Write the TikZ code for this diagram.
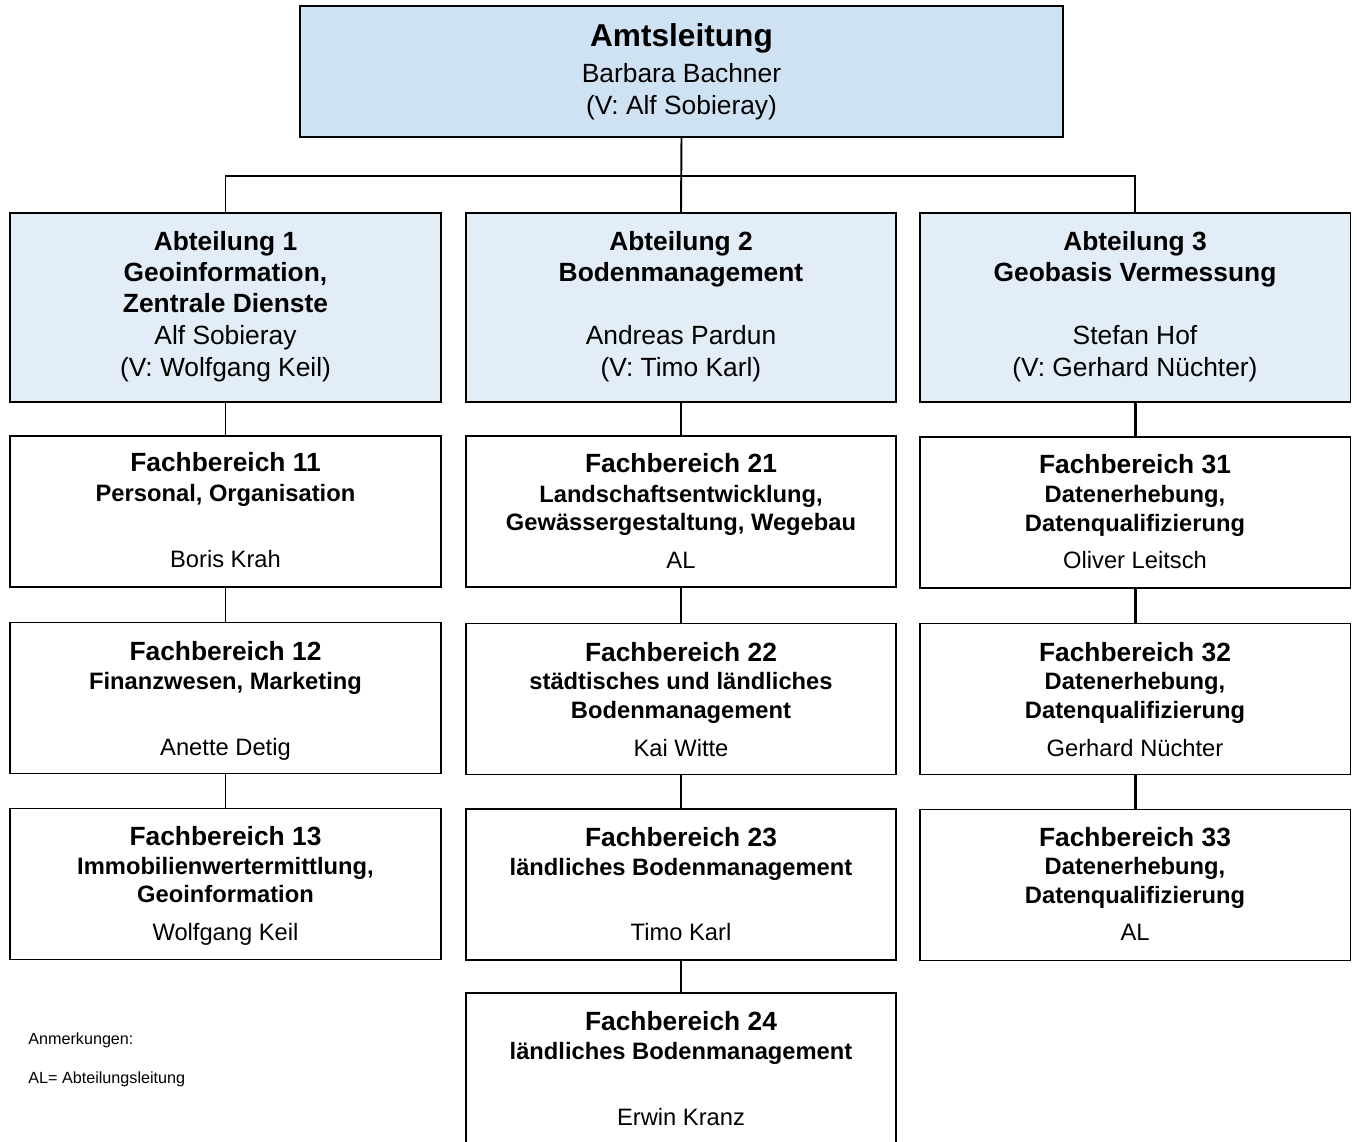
\documentclass[tikz,border=0pt]{standalone}
\usepackage{fontspec}
\setmainfont{Liberation Sans}
\definecolor{amtblue}{RGB}{207,226,243}
\definecolor{abtblue}{RGB}{226,237,248}

\begin{document}
\begin{tikzpicture}[x=0.02cm, y=-0.02cm,
    box/.style={draw, line width=1.1pt, inner sep=0pt},
    amtbox/.style={box, fill=amtblue, minimum width=15.26cm, minimum height=2.62cm},
    abtbox/.style={box, fill=abtblue, minimum width=8.62cm, minimum height=3.78cm},
    fbbox/.style={box, minimum width=8.62cm, minimum height=3.02cm},
    head/.style={anchor=base, inner sep=0pt, font=\fontsize{18}{21}\selectfont\bfseries},
    big/.style={anchor=base, inner sep=0pt, font=\fontsize{15}{18}\selectfont\bfseries},
    bigperson/.style={anchor=base, inner sep=0pt, font=\fontsize{15}{18}\selectfont},
    sub/.style={anchor=base, inner sep=0pt, font=\fontsize{13.5}{16}\selectfont\bfseries},
    person/.style={anchor=base, inner sep=0pt, font=\fontsize{13.5}{16}\selectfont},
    note/.style={anchor=base west, inner sep=0pt, font=\fontsize{9.2}{11}\selectfont},
    link/.style={line width=1.1pt},
    thicklink/.style={line width=1.7pt}]

    % Fix the page size to the whole chart
    \useasboundingbox (0,0) rectangle (1357,1142);

    % Top box: Amtsleitung
    \node[amtbox] (amt) at (681.5,71.5) {};
    \node[head] (amta) at (681.5,47) {Amtsleitung};
    \node[bigperson] (amtb) at (681.5,83) {Barbara Bachner};
    \node[bigperson] (amtc) at (681.5,115) {(V: Alf Sobieray)};

    % The three Abteilungen
    \node[abtbox] (abt1) at (225.5,307.5) {};
    \node[abtbox] (abt2) at (681,307.5) {};
    \node[abtbox] (abt3) at (1135,307.5) {};

    \node[big] (abt1a) at (225.5,251) {Abteilung 1};
    \node[big] (abt1b) at (225.5,282) {Geoinformation,};
    \node[big] (abt1c) at (225.5,313) {Zentrale Dienste};
    \node[bigperson] (abt1d) at (225.5,345) {Alf Sobieray};
    \node[bigperson] (abt1e) at (225.5,377) {(V: Wolfgang Keil)};

    \node[big] (abt2a) at (681,251) {Abteilung 2};
    \node[big] (abt2b) at (681,282) {Bodenmanagement};
    \node[bigperson] (abt2d) at (681,345) {Andreas Pardun};
    \node[bigperson] (abt2e) at (681,377) {(V: Timo Karl)};

    \node[big] (abt3a) at (1135,251) {Abteilung 3};
    \node[big] (abt3b) at (1135,282) {Geobasis Vermessung};
    \node[bigperson] (abt3d) at (1135,345) {Stefan Hof};
    \node[bigperson] (abt3e) at (1135,377) {(V: Gerhard Nüchter)};

    % Column 1: Fachbereiche 11 to 13
    \node[fbbox] (fb11) at (225.5,511.5) {};
    \node[big] (fb11a) at (225.5,472) {Fachbereich 11};
    \node[sub] (fb11b) at (225.5,501.5) {Personal, Organisation};
    \node[person] (fb11c) at (225.5,567) {Boris Krah};

    \node[fbbox] (fb12) at (225.5,698) {};
    \node[big] (fb12a) at (225.5,660) {Fachbereich 12};
    \node[sub] (fb12b) at (225.5,689.5) {Finanzwesen, Marketing};
    \node[person] (fb12c) at (225.5,755.5) {Anette Detig};

    \node[fbbox] (fb13) at (225.5,884) {};
    \node[big] (fb13a) at (225.5,845) {Fachbereich 13};
    \node[sub] (fb13b) at (225.5,874) {Immobilienwertermittlung,};
    \node[sub] (fb13c) at (225.5,902.5) {Geoinformation};
    \node[person] (fb13d) at (225.5,940.5) {Wolfgang Keil};

    % Column 2: Fachbereiche 21 to 24
    \node[fbbox] (fb21) at (681,511.5) {};
    \node[big] (fb21a) at (681,473) {Fachbereich 21};
    \node[sub] (fb21b) at (681,502) {Landschaftsentwicklung,};
    \node[sub] (fb21c) at (681,530.5) {Gewässergestaltung, Wegebau};
    \node[person] (fb21d) at (681,568.5) {AL};

    \node[fbbox] (fb22) at (681,699) {};
    \node[big] (fb22a) at (681,661) {Fachbereich 22};
    \node[sub] (fb22b) at (681,689.5) {städtisches und ländliches};
    \node[sub] (fb22c) at (681,718) {Bodenmanagement};
    \node[person] (fb22d) at (681,756) {Kai Witte};

    \node[fbbox] (fb23) at (681,884.5) {};
    \node[big] (fb23a) at (681,846) {Fachbereich 23};
    \node[sub] (fb23b) at (681,875) {ländliches Bodenmanagement};
    \node[person] (fb23c) at (681,940.5) {Timo Karl};

    \node[fbbox] (fb24) at (681,1068.5) {};
    \node[big] (fb24a) at (681,1030) {Fachbereich 24};
    \node[sub] (fb24b) at (681,1059.5) {ländliches Bodenmanagement};
    \node[person] (fb24c) at (681,1125) {Erwin Kranz};

    % Column 3: Fachbereiche 31 to 33
    \node[fbbox] (fb31) at (1135,512.5) {};
    \node[big] (fb31a) at (1135,474) {Fachbereich 31};
    \node[sub] (fb31b) at (1135,502.5) {Datenerhebung,};
    \node[sub] (fb31c) at (1135,531) {Datenqualifizierung};
    \node[person] (fb31d) at (1135,568.5) {Oliver Leitsch};

    \node[fbbox] (fb32) at (1135,699) {};
    \node[big] (fb32a) at (1135,661) {Fachbereich 32};
    \node[sub] (fb32b) at (1135,689.5) {Datenerhebung,};
    \node[sub] (fb32c) at (1135,718) {Datenqualifizierung};
    \node[person] (fb32d) at (1135,756) {Gerhard Nüchter};

    \node[fbbox] (fb33) at (1135,885) {};
    \node[big] (fb33a) at (1135,846) {Fachbereich 33};
    \node[sub] (fb33b) at (1135,874.5) {Datenerhebung,};
    \node[sub] (fb33c) at (1135,903) {Datenqualifizierung};
    \node[person] (fb33d) at (1135,940.5) {AL};

    % Remarks in the lower left corner
    \node[note] (rem1) at (28,1044) {Anmerkungen:};
    \node[note] (rem2) at (28,1083) {AL= Abteilungsleitung};

    % Lines from the top box down to the Abteilungen
    \coordinate (bus) at (681,176);
    \draw[link] (amt.south) -- (abt2.north);
    \draw[link] (abt1.north) |- (bus) -| (abt3.north);

    % Lines inside the columns
    \draw[link] (abt1.south) -- (fb11.north);
    \draw[link] (fb11.south) -- (fb12.north);
    \draw[link] (fb12.south) -- (fb13.north);

    \draw[link] (abt2.south) -- (fb21.north);
    \draw[link] (fb21.south) -- (fb22.north);
    \draw[link] (fb22.south) -- (fb23.north);
    \draw[link] (fb23.south) -- (fb24.north);

    \draw[thicklink] (abt3.south) -- (fb31.north);
    \draw[thicklink] (fb31.south) -- (fb32.north);
    \draw[thicklink] (fb32.south) -- (fb33.north);

\end{tikzpicture}
\end{document}
